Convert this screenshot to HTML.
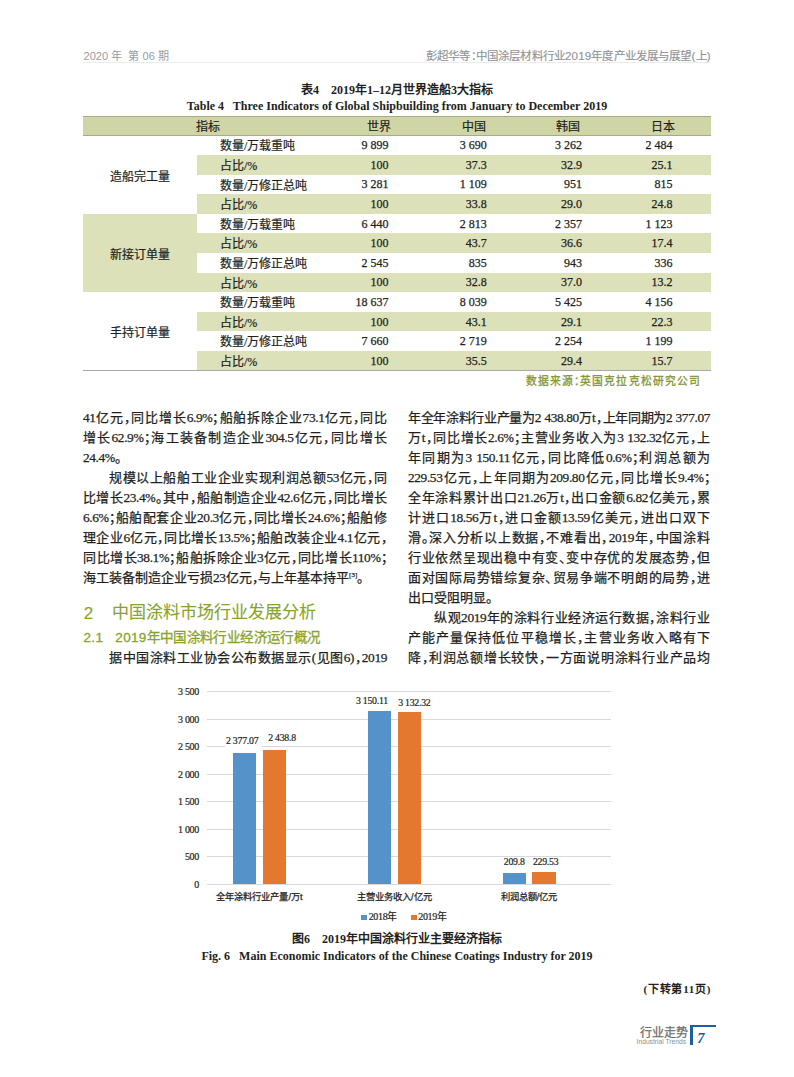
<!DOCTYPE html>
<html lang="zh-CN"><head><meta charset="utf-8">
<style>
html,body{margin:0;padding:0;background:#fff;}
body{width:794px;height:1077px;position:relative;overflow:hidden;font-family:"Liberation Serif",serif;color:#231f20;}
div{position:absolute;white-space:nowrap;}
.hdr{font-family:"Liberation Sans",sans-serif;font-size:11.5px;color:#9a9da1;top:47px;line-height:16px;}
.hline{left:83px;width:627px;top:61.5px;height:1px;background:#ebebeb;}
.ttl{left:0;width:794px;text-align:center;font-weight:bold;font-size:12px;line-height:16px;}
.thead{left:83px;width:627.7px;background:#d0d5a5;border-top:1px solid #a7ab88;border-bottom:1px solid #a7ab88;box-sizing:border-box;}
.stripe{background:#dce1b9;}
.tline{left:83px;width:627.7px;height:1px;background:#a9a9a9;}
.tc{text-align:center;font-size:12px;line-height:20px;margin-top:1.2px;-webkit-text-stroke:0.2px #231f20;}
.tl{font-size:12px;line-height:20px;margin-top:1.2px;-webkit-text-stroke:0.2px #231f20;}
.tn{text-align:right;font-size:12px;line-height:20px;-webkit-text-stroke:0.25px #231f20;}
.src{font-size:11.6px;color:#869536;line-height:14px;-webkit-text-stroke:0.3px #869536;}
.bl{font-size:13px;line-height:20px;height:20px;-webkit-text-stroke:0.25px #231f20;}
.jj{text-align:justify;text-align-last:justify;white-space:normal;}
.h{letter-spacing:-0.5em;}
.l{font-size:13.4px;letter-spacing:-0.4px;}
.pc{font-size:12.5px;letter-spacing:-0.3px;}
sup{font-size:7px;vertical-align:5px;line-height:0;}
.h2{font-family:"Liberation Sans",sans-serif;color:#87a329;font-size:17px;line-height:20px;-webkit-text-stroke:0.1px #87a329;}
.h3{font-family:"Liberation Sans",sans-serif;color:#87a329;font-size:13.5px;letter-spacing:0.35px;line-height:18px;-webkit-text-stroke:0.3px #87a329;}
.grid{left:207.3px;width:404px;height:1px;background:#d9d9d9;}
.yl{text-align:right;font-size:10px;letter-spacing:-0.3px;line-height:12px;-webkit-text-stroke:0.2px #231f20;}
.vl{font-size:9.8px;letter-spacing:-0.25px;line-height:12px;-webkit-text-stroke:0.2px #231f20;}
.xl{text-align:center;font-family:"Liberation Sans",sans-serif;font-size:9.3px;line-height:12px;-webkit-text-stroke:0.25px #231f20;}
.bar{}
.blue{background:#5692ca;}
.orange{background:#e5782f;}
.leg{font-size:10px;letter-spacing:-0.35px;line-height:12px;-webkit-text-stroke:0.2px #231f20;}
.sq{width:5.7px;height:5.7px;}
.cap{left:0;width:794px;text-align:center;font-weight:bold;font-size:12px;line-height:16px;}
</style></head><body>
<div class="hdr" style="left:83.5px;font-size:11.1px;top:47.5px">2020 年&nbsp; 第 06 期</div>
<div class="hdr" style="left:426px;top:48px;font-size:11.5px;color:#909397;letter-spacing:0.15px;-webkit-text-stroke:0.15px #909397">彭超华等<span class="h">：</span>中国涂层材料行业2019年度产业发展与展望(上)</div>
<div class="hline"></div>
<div class="ttl" style="top:82.3px">表4&nbsp;&nbsp;&nbsp; 2019年1–12月世界造船3大指标</div>
<div class="ttl" style="top:98.2px">Table 4&nbsp;&nbsp; Three Indicators of Global Shipbuilding from January to December 2019</div>
<div class="thead" style="top:116.4px;height:20.00px"></div>
<div class="stripe" style="left:197px;width:513.7px;top:155.08px;height:19.58px"></div>
<div class="stripe" style="left:197px;width:513.7px;top:194.24px;height:19.58px"></div>
<div class="stripe" style="left:197px;width:513.7px;top:233.40px;height:19.58px"></div>
<div class="stripe" style="left:197px;width:513.7px;top:272.56px;height:19.58px"></div>
<div class="stripe" style="left:197px;width:513.7px;top:311.72px;height:19.58px"></div>
<div class="stripe" style="left:197px;width:513.7px;top:350.88px;height:19.58px"></div>
<div class="stripe" style="left:83px;width:114px;top:213.82px;height:78.32px"></div>
<div class="tline" style="top:370.46px"></div>
<div class="tc" style="left:147.5px;width:120px;top:115.95px">指标</div>
<div class="tc" style="left:319px;width:120px;top:115.95px">世界</div>
<div class="tc" style="left:414px;width:120px;top:115.95px">中国</div>
<div class="tc" style="left:508px;width:120px;top:115.95px">韩国</div>
<div class="tc" style="left:603px;width:120px;top:115.95px">日本</div>
<div class="tc" style="left:80px;width:120px;top:165.66px">造船完工量</div>
<div class="tc" style="left:80px;width:120px;top:243.98px">新接订单量</div>
<div class="tc" style="left:80px;width:120px;top:322.30px">手持订单量</div>
<div class="tl" style="left:220px;top:135.29px">数量/万载重吨</div>
<div class="tn" style="left:308.4px;width:80px;top:135.29px">9 899</div>
<div class="tn" style="left:406.7px;width:80px;top:135.29px">3 690</div>
<div class="tn" style="left:501.9px;width:80px;top:135.29px">3 262</div>
<div class="tn" style="left:592.6px;width:80px;top:135.29px">2 484</div>
<div class="tl" style="left:220px;top:154.87px">占比/%</div>
<div class="tn" style="left:308.4px;width:80px;top:154.87px">100</div>
<div class="tn" style="left:406.7px;width:80px;top:154.87px">37.3</div>
<div class="tn" style="left:501.9px;width:80px;top:154.87px">32.9</div>
<div class="tn" style="left:592.6px;width:80px;top:154.87px">25.1</div>
<div class="tl" style="left:220px;top:174.45px">数量/万修正总吨</div>
<div class="tn" style="left:308.4px;width:80px;top:174.45px">3 281</div>
<div class="tn" style="left:406.7px;width:80px;top:174.45px">1 109</div>
<div class="tn" style="left:501.9px;width:80px;top:174.45px">951</div>
<div class="tn" style="left:592.6px;width:80px;top:174.45px">815</div>
<div class="tl" style="left:220px;top:194.03px">占比/%</div>
<div class="tn" style="left:308.4px;width:80px;top:194.03px">100</div>
<div class="tn" style="left:406.7px;width:80px;top:194.03px">33.8</div>
<div class="tn" style="left:501.9px;width:80px;top:194.03px">29.0</div>
<div class="tn" style="left:592.6px;width:80px;top:194.03px">24.8</div>
<div class="tl" style="left:220px;top:213.61px">数量/万载重吨</div>
<div class="tn" style="left:308.4px;width:80px;top:213.61px">6 440</div>
<div class="tn" style="left:406.7px;width:80px;top:213.61px">2 813</div>
<div class="tn" style="left:501.9px;width:80px;top:213.61px">2 357</div>
<div class="tn" style="left:592.6px;width:80px;top:213.61px">1 123</div>
<div class="tl" style="left:220px;top:233.19px">占比/%</div>
<div class="tn" style="left:308.4px;width:80px;top:233.19px">100</div>
<div class="tn" style="left:406.7px;width:80px;top:233.19px">43.7</div>
<div class="tn" style="left:501.9px;width:80px;top:233.19px">36.6</div>
<div class="tn" style="left:592.6px;width:80px;top:233.19px">17.4</div>
<div class="tl" style="left:220px;top:252.77px">数量/万修正总吨</div>
<div class="tn" style="left:308.4px;width:80px;top:252.77px">2 545</div>
<div class="tn" style="left:406.7px;width:80px;top:252.77px">835</div>
<div class="tn" style="left:501.9px;width:80px;top:252.77px">943</div>
<div class="tn" style="left:592.6px;width:80px;top:252.77px">336</div>
<div class="tl" style="left:220px;top:272.35px">占比/%</div>
<div class="tn" style="left:308.4px;width:80px;top:272.35px">100</div>
<div class="tn" style="left:406.7px;width:80px;top:272.35px">32.8</div>
<div class="tn" style="left:501.9px;width:80px;top:272.35px">37.0</div>
<div class="tn" style="left:592.6px;width:80px;top:272.35px">13.2</div>
<div class="tl" style="left:220px;top:291.93px">数量/万载重吨</div>
<div class="tn" style="left:308.4px;width:80px;top:291.93px">18 637</div>
<div class="tn" style="left:406.7px;width:80px;top:291.93px">8 039</div>
<div class="tn" style="left:501.9px;width:80px;top:291.93px">5 425</div>
<div class="tn" style="left:592.6px;width:80px;top:291.93px">4 156</div>
<div class="tl" style="left:220px;top:311.51px">占比/%</div>
<div class="tn" style="left:308.4px;width:80px;top:311.51px">100</div>
<div class="tn" style="left:406.7px;width:80px;top:311.51px">43.1</div>
<div class="tn" style="left:501.9px;width:80px;top:311.51px">29.1</div>
<div class="tn" style="left:592.6px;width:80px;top:311.51px">22.3</div>
<div class="tl" style="left:220px;top:331.09px">数量/万修正总吨</div>
<div class="tn" style="left:308.4px;width:80px;top:331.09px">7 660</div>
<div class="tn" style="left:406.7px;width:80px;top:331.09px">2 719</div>
<div class="tn" style="left:501.9px;width:80px;top:331.09px">2 254</div>
<div class="tn" style="left:592.6px;width:80px;top:331.09px">1 199</div>
<div class="tl" style="left:220px;top:350.67px">占比/%</div>
<div class="tn" style="left:308.4px;width:80px;top:350.67px">100</div>
<div class="tn" style="left:406.7px;width:80px;top:350.67px">35.5</div>
<div class="tn" style="left:501.9px;width:80px;top:350.67px">29.4</div>
<div class="tn" style="left:592.6px;width:80px;top:350.67px">15.7</div>
<div class="src" style="left:526px;top:374px;font-size:10.8px;letter-spacing:1.12px">数据来源<span class="h">：</span>英国克拉克松研究公司</div>
<div class="bl jj" style="left:83px;top:407.5px;width:304px;"><span class="l">41</span>亿元<span class="h">，</span>同比增长<span class="l">6.9<span class="pc">%</span></span><span class="h">；</span>船舶拆除企业<span class="l">73.1</span>亿元<span class="h">，</span>同比</div>
<div class="bl jj" style="left:83px;top:427.5px;width:304px;">增长<span class="l">62.9<span class="pc">%</span></span><span class="h">；</span>海工装备制造企业<span class="l">304.5</span>亿元<span class="h">，</span>同比增长</div>
<div class="bl" style="left:83px;top:447.5px;width:304px;"><span class="l">24.4<span class="pc">%</span></span><span class="h">。</span></div>
<div class="bl jj" style="left:109px;top:467.5px;width:278px;">规模以上船舶工业企业实现利润总额<span class="l">53</span>亿元<span class="h">，</span>同</div>
<div class="bl jj" style="left:83px;top:487.5px;width:304px;">比增长<span class="l">23.4<span class="pc">%</span></span><span class="h">。</span>其中<span class="h">，</span>船舶制造企业<span class="l">42.6</span>亿元<span class="h">，</span>同比增长</div>
<div class="bl jj" style="left:83px;top:507.5px;width:304px;"><span class="l">6.6<span class="pc">%</span></span><span class="h">；</span>船舶配套企业<span class="l">20.3</span>亿元<span class="h">，</span>同比增长<span class="l">24.6<span class="pc">%</span></span><span class="h">；</span>船舶修</div>
<div class="bl jj" style="left:83px;top:527.5px;width:304px;">理企业<span class="l">6</span>亿元<span class="h">，</span>同比增长<span class="l">13.5<span class="pc">%</span></span><span class="h">；</span>船舶改装企业<span class="l">4.1</span>亿元<span class="h">，</span></div>
<div class="bl jj" style="left:83px;top:547.5px;width:304px;">同比增长<span class="l">38.1<span class="pc">%</span></span><span class="h">；</span>船舶拆除企业<span class="l">3</span>亿元<span class="h">，</span>同比增长<span class="l">110<span class="pc">%</span></span><span class="h">；</span></div>
<div class="bl" style="left:83px;top:567.5px;width:304px;">海工装备制造企业亏损<span class="l">23</span>亿元<span class="h">，</span>与上年基本持平<sup>[3]</sup><span class="h">。</span></div>
<div class="bl jj" style="left:109px;top:647.5px;width:278px;">据中国涂料工业协会公布数据显示(见图<span class="l">6</span>)<span class="h">，</span><span class="l">2019</span></div>
<div class="bl jj" style="left:408px;top:407.5px;width:302px;letter-spacing:-0.7px;">年全年涂料行业产量为<span class="l">2&nbsp;438.80</span>万<span class="l">t</span><span class="h">，</span>上年同期为<span class="l">2&nbsp;377.07</span></div>
<div class="bl jj" style="left:408px;top:427.5px;width:302px;">万<span class="l">t</span><span class="h">，</span>同比增长<span class="l">2.6<span class="pc">%</span></span><span class="h">；</span>主营业务收入为<span class="l">3&nbsp;132.32</span>亿元<span class="h">，</span>上</div>
<div class="bl jj" style="left:408px;top:447.5px;width:302px;">年同期为<span class="l">3&nbsp;150.11</span>亿元<span class="h">，</span>同比降低<span class="l">0.6<span class="pc">%</span></span><span class="h">；</span>利润总额为</div>
<div class="bl jj" style="left:408px;top:467.5px;width:302px;"><span class="l">229.53</span>亿元<span class="h">，</span>上年同期为<span class="l">209.80</span>亿元<span class="h">，</span>同比增长<span class="l">9.4<span class="pc">%</span></span><span class="h">；</span></div>
<div class="bl jj" style="left:408px;top:487.5px;width:302px;">全年涂料累计出口<span class="l">21.26</span>万<span class="l">t</span><span class="h">，</span>出口金额<span class="l">6.82</span>亿美元<span class="h">，</span>累</div>
<div class="bl jj" style="left:408px;top:507.5px;width:302px;">计进口<span class="l">18.56</span>万<span class="l">t</span><span class="h">，</span>进口金额<span class="l">13.59</span>亿美元<span class="h">，</span>进出口双下</div>
<div class="bl jj" style="left:408px;top:527.5px;width:302px;">滑<span class="h">。</span>深入分析以上数据<span class="h">，</span>不难看出<span class="h">，</span><span class="l">2019</span>年<span class="h">，</span>中国涂料</div>
<div class="bl jj" style="left:408px;top:547.5px;width:302px;">行业依然呈现出稳中有变<span class="h">、</span>变中存优的发展态势<span class="h">，</span>但</div>
<div class="bl jj" style="left:408px;top:567.5px;width:302px;">面对国际局势错综复杂<span class="h">、</span>贸易争端不明朗的局势<span class="h">，</span>进</div>
<div class="bl" style="left:408px;top:587.5px;width:302px;">出口受阻明显<span class="h">。</span></div>
<div class="bl jj" style="left:434px;top:607.5px;width:276px;">纵观<span class="l">2019</span>年的涂料行业经济运行数据<span class="h">，</span>涂料行业</div>
<div class="bl jj" style="left:408px;top:627.5px;width:302px;">产能产量保持低位平稳增长<span class="h">，</span>主营业务收入略有下</div>
<div class="bl jj" style="left:408px;top:647.5px;width:302px;">降<span class="h">，</span>利润总额增长较快<span class="h">，</span>一方面说明涂料行业产品均</div>

<div class="h2" style="left:83.8px;top:603.5px">2</div>
<div class="h2" style="left:112px;top:603px">中国涂料市场行业发展分析</div>
<div class="h3" style="left:83.5px;top:629.2px">2.1</div>
<div class="h3" style="left:115.3px;top:629px">2019年中国涂料行业经济运行概况</div>
<div class="grid" style="top:884px"></div>
<div class="yl" style="left:159.0px;width:40px;top:879.20px">0</div>
<div class="grid" style="top:856px"></div>
<div class="yl" style="left:159.0px;width:40px;top:851.20px">500</div>
<div class="grid" style="top:829px"></div>
<div class="yl" style="left:159.0px;width:40px;top:824.20px">1 000</div>
<div class="grid" style="top:801px"></div>
<div class="yl" style="left:159.0px;width:40px;top:796.20px">1 500</div>
<div class="grid" style="top:774px"></div>
<div class="yl" style="left:159.0px;width:40px;top:769.20px">2 000</div>
<div class="grid" style="top:746px"></div>
<div class="yl" style="left:159.0px;width:40px;top:741.20px">2 500</div>
<div class="grid" style="top:719px"></div>
<div class="yl" style="left:159.0px;width:40px;top:714.20px">3 000</div>
<div class="grid" style="top:691px"></div>
<div class="yl" style="left:159.0px;width:40px;top:686.20px">3 500</div>
<div class="bar blue" style="left:232.90px;width:23.3px;top:753.49px;height:131.01px"></div>
<div class="bar orange" style="left:262.80px;width:23.3px;top:750.09px;height:134.41px"></div>
<div class="vl" style="left:226.00px;top:734.60px; background:#fff;margin-left:-1.5px;padding:0 3.5px 4px 1.5px;">2&nbsp;377.07</div>
<div class="vl" style="left:268.20px;top:732.30px">2&nbsp;438.8</div>
<div class="xl" style="left:199.50px;width:120px;top:891px">全年涂料行业产量/万t</div>
<div class="bar blue" style="left:367.70px;width:23.3px;top:710.88px;height:173.62px"></div>
<div class="bar orange" style="left:397.60px;width:23.3px;top:711.86px;height:172.64px"></div>
<div class="vl" style="left:355.90px;top:694.50px;">3&nbsp;150.11</div>
<div class="vl" style="left:398.20px;top:696.80px">3&nbsp;132.32</div>
<div class="xl" style="left:334.30px;width:120px;top:891px">主营业务收入/亿元</div>
<div class="bar blue" style="left:502.50px;width:23.3px;top:872.94px;height:11.56px"></div>
<div class="bar orange" style="left:532.40px;width:23.3px;top:871.85px;height:12.65px"></div>
<div class="vl" style="left:503.80px;top:856.20px;">209.8</div>
<div class="vl" style="left:532.90px;top:856.20px">229.53</div>
<div class="xl" style="left:469.10px;width:120px;top:891px">利润总额/亿元</div>
<div class="sq blue" style="left:361.2px;top:914.8px"></div>
<div class="leg" style="left:368.7px;top:911px">2018年</div>
<div class="sq orange" style="left:411px;top:914.8px"></div>
<div class="leg" style="left:418.3px;top:911px">2019年</div>
<div class="cap" style="top:931px">图6&nbsp;&nbsp;&nbsp; 2019年中国涂料行业主要经济指标</div>
<div class="cap" style="top:948px">Fig. 6&nbsp;&nbsp; Main Economic Indicators of the Chinese Coatings Industry for 2019</div>
<div style="left:643.5px;top:980.5px;font-size:11px;font-weight:bold;line-height:16px;letter-spacing:0.75px">(下转第11页)</div>
<div style="left:640px;top:1025.3px;font-family:'Liberation Sans',sans-serif;font-size:12px;color:#6a6c6e;line-height:16px;-webkit-text-stroke:0.25px #6a6c6e">行业走势</div>
<div style="left:636.6px;top:1037.8px;font-family:'Liberation Sans',sans-serif;font-size:6.7px;color:#8c8e90;line-height:8px">Industrial Trends</div>
<div style="left:689.8px;top:1025.3px;width:3.3px;height:19.4px;background:#1b5ea5"></div>
<div style="left:692px;top:1025.3px;width:23.8px;height:1.5px;background:#1b5ea5"></div>
<div style="left:697.3px;top:1030.2px;font-size:14.5px;font-weight:bold;font-style:italic;color:#1a5799;line-height:16px">7</div>
</body></html>
